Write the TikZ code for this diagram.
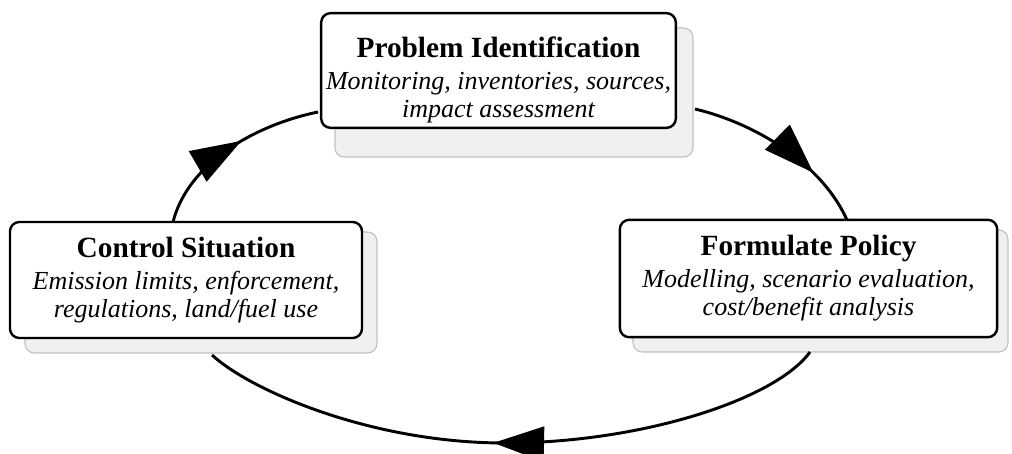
\documentclass[tikz,border=0pt]{standalone}
\usepackage{fontspec}
\setmainfont{Liberation Serif}
\usetikzlibrary{arrows.meta,decorations.markings}
\newcommand\ttltxt{\fontsize{22}{26}\selectfont\upshape\bfseries}
\newcommand\subtxt{\fontsize{19.5}{21}\selectfont\itshape}
\begin{document}
\begin{tikzpicture}[x=0.75pt,y=-0.75pt,
  card/.style={draw=black,line width=1.8pt,rounded corners=7pt,fill=white,inner sep=0pt,align=center,font=\subtxt},
  shadebox/.style={draw=gray!50,line width=0.8pt,fill=gray!12,rounded corners=7pt},
  cyc/.style={line width=2.2pt,decoration={markings,mark=at position #1 with {\arrow{Triangle[length=38pt,width=26pt]}}},postaction={decorate}}
]
\useasboundingbox (0,0) rectangle (1012,453);
% shadows
\draw[shadebox] (335,28) rectangle (693,157);
\draw[shadebox] (25,232) rectangle (377,353);
\draw[shadebox] (633,230) rectangle (1008,352);
% boxes
\node[card,minimum width=266pt,minimum height=86pt] (top) at (498.5,70.5)
  {\rule{0pt}{30pt}{\ttltxt Problem Identification}\\[3pt]Monitoring, inventories, sources,\\impact assessment};
\node[card,minimum width=264pt,minimum height=87pt] (left) at (186,280)
  {{\ttltxt Control Situation}\\[3pt]Emission limits, enforcement,\\regulations, land/fuel use};
\node[card,minimum width=283pt,minimum height=88pt] (right) at (808.5,278.5)
  {{\ttltxt Formulate Policy}\\[3pt]Modelling, scenario evaluation,\\cost/benefit analysis};
% connector end points
\coordinate (l1) at (173,222);
\coordinate (t1) at (318,112);
\coordinate (t2) at (695,109);
\coordinate (r1) at (847,220);
\coordinate (r2) at (810,352);
\coordinate (bot) at (505,443);
\coordinate (l2) at (212,355);
% cycle
\draw[cyc=0.57] (l1) .. controls (188,163) and (255,125) .. (t1);
\draw[cyc=0.70] (t2) .. controls (750,122) and (820,160) .. (r1);
\draw[cyc=0.53] (r2) .. controls (775,400) and (640,443) .. (bot)
  .. controls (370,443) and (250,390) .. (l2);
\end{tikzpicture}
\end{document}
